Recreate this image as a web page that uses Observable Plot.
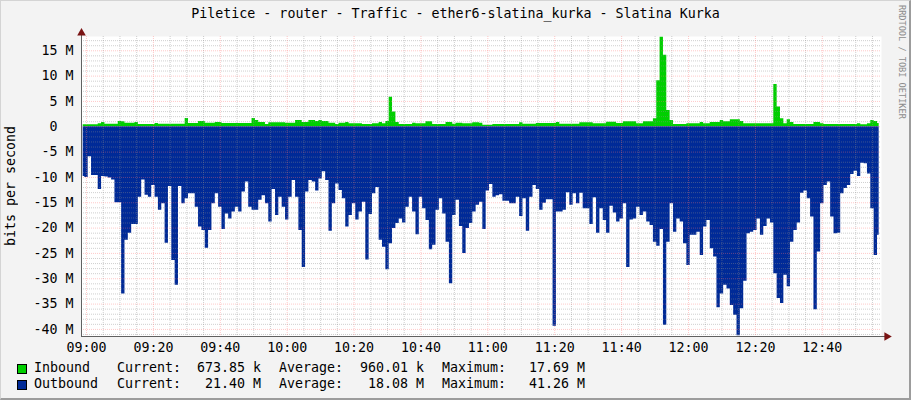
<!DOCTYPE html>
<html>
<head>
<meta charset="utf-8">
<script src="https://cdn.jsdelivr.net/npm/d3@7"></script>
<script src="https://cdn.jsdelivr.net/npm/@observablehq/plot@0.6"></script>
<style>
html,body{margin:0;padding:0;background:#f3f3f3;}
#wrap{position:relative;width:911px;height:400px;background:#f3f3f3;font-family:"DejaVu Sans Mono",monospace;font-size:13.3px;color:#000;overflow:hidden;}
#frame{position:absolute;left:0;top:0;width:911px;height:400px;box-sizing:border-box;border-top:1px solid #d4d4d4;border-left:1px solid #d4d4d4;border-right:2px solid #9c9c9c;border-bottom:2px solid #9c9c9c;pointer-events:none;}
#title{position:absolute;left:0;top:6px;width:911px;text-align:center;line-height:16px;white-space:pre;}
#chart{position:absolute;left:0;top:0;}
#rrd{position:absolute;left:897px;top:5px;writing-mode:vertical-rl;font-size:8.6px;line-height:10px;color:#8c8c8c;white-space:pre;}
#ylab{position:absolute;left:3px;top:126px;height:120px;writing-mode:vertical-rl;transform:rotate(180deg);line-height:16px;text-align:center;white-space:pre;}
.lg{position:absolute;line-height:16px;white-space:pre;}
.sw{position:absolute;width:10px;height:10px;box-sizing:border-box;border:1px solid #000;}
</style>
</head>
<body>
<div id="wrap">
  <div id="title"></div>
  <div id="ylab"></div>
  <div id="chart"></div>
  <div id="rrd"></div>
  <div id="legend"></div>
  <div id="frame"></div>
</div>
<script>
// ---- text ----
const titleText = "Piletice - router - Traffic - ether6-slatina_kurka - Slatina Kurka";
const yTitle = "bits per second";
const watermark = "RRDTOOL / TOBI OETIKER";

// ---- legend ----
const seriesNames = ["Inbound", "Outbound"];
const seriesColors = ["#00CF00", "#002A97"];
const currentVals = ["673.85 k", "21.40 M"];
const averageVals = ["960.01 k", "18.08 M"];
const maximumVals = ["17.69 M", "41.26 M"];

// ---- axis ticks ----
const xTickLabels = ["09:00","09:20","09:40","10:00","10:20","10:40","11:00","11:20","11:40","12:00","12:20","12:40"];
const yTickValues = [15, 10, 5, 0, -5, -10, -15, -20, -25, -30, -35, -40]; // M

// ---- series: one sample per minute, first sample at 08:59 (Mbit/s) ----
const inbound = [
  .4,.4,.4,.4,.4,.6,.85,.5,.5,.5,
  .5,1.05,1.0,.7,.7,.7,.85,.45,.45,.45,
  .45,.45,.65,.5,.5,.5,.5,.5,.5,.5,
  .5,1.65,.65,.65,.65,1.05,1.05,.7,.7,.7,
  .85,.85,.65,.65,.65,.65,.65,.65,.65,.65,
  .65,1.65,1.25,.85,.85,.45,.8,.8,.8,.8,
  .8,.7,.7,.7,1.25,1.25,.85,.85,1.25,1.25,
  1.05,1.25,1.05,1.05,.7,.7,.45,.7,.7,.85,
  .6,.6,.6,.6,.45,.45,.45,.6,.6,.85,
  .6,1.05,5.85,2.9,.85,.45,.45,.45,.45,.7,
  .6,.6,.6,1.0,1.0,.45,.45,.45,.45,.85,
  .85,.5,.7,.7,.6,.6,.6,.8,.8,.7,
  .3,.3,.3,.45,.45,.45,.45,.45,.45,.45,
  .45,.8,.5,.5,.5,.5,.65,.65,.65,.65,
  .65,.65,.85,.5,.5,.5,.5,.5,.5,.8,
  .8,.8,.8,.6,.6,.6,.6,.9,.9,.9,
  .65,.65,1.0,1.0,1.0,1.0,.6,.6,1.0,1.0,
  1.0,1.6,9.1,17.69,14.1,3.2,1.25,.45,.45,.45,
  .45,.6,.6,.6,.6,.85,.6,.6,.85,.85,
  .85,1.25,1.0,1.0,1.4,1.4,1.4,1.05,.6,.6,
  .6,.6,.6,.6,.6,.6,.6,8.35,3.9,1.6,
  .6,1.4,.85,.45,.45,.45,.45,.45,.45,.85,
  .85,.6,.45,.45,.45,.45,.45,.45,.45,.45,
  .45,.45,.6,.4,.4,.6,1.25,1.05,.67
];
const outbound = [
  9.8,10.0,5.9,9.6,9.6,12.4,9.8,9.9,10.1,10.5,
  15.0,15.0,33.0,22.4,21.0,19.3,19.3,13.9,10.5,13.5,
  13.9,11.6,13.9,16.5,15.2,23.0,11.8,26.4,31.3,11.8,
  15.2,14.2,13.2,13.2,15.9,19.8,20.5,24.0,20.5,15.2,
  13.2,15.9,20.3,17.2,18.2,16.8,15.9,16.8,12.9,10.9,
  15.9,16.5,16.5,14.5,13.6,15.2,18.8,12.4,17.5,13.9,
  15.9,18.4,13.9,10.6,13.9,20.5,27.8,12.9,10.6,10.9,
  12.7,10.3,8.9,10.6,20.6,15.2,11.3,12.6,14.2,19.8,
  17.5,15.2,18.4,16.8,14.9,26.3,17.3,13.2,12.0,22.4,
  23.8,28.2,23.1,20.1,19.1,18.2,19.0,15.9,13.9,16.8,
  21.3,13.9,16.2,18.5,24.3,23.4,16.5,14.2,17.2,22.8,
  31.0,17.5,14.5,19.7,25.0,20.1,19.1,16.8,15.5,14.9,
  20.3,12.7,11.4,13.9,13.6,13.4,14.7,14.7,15.2,15.2,
  13.9,17.7,14.2,20.6,13.9,11.6,12.4,16.5,15.1,14.4,
  14.4,39.4,16.8,16.8,16.5,13.0,15.5,13.2,15.2,13.1,
  16.2,16.2,19.3,14.0,21.0,16.2,18.5,21.0,15.7,17.0,
  18.8,18.2,15.2,27.8,18.4,18.2,15.9,17.5,16.8,18.8,
  19.5,22.8,23.6,20.3,39.2,22.8,15.2,20.8,18.2,18.8,
  23.1,27.4,21.4,21.4,20.8,25.4,19.8,18.5,24.1,25.7,
  35.7,33.0,31.3,32.0,35.3,37.2,41.26,35.9,30.5,21.1,
  20.8,20.5,18.2,21.4,19.7,18.2,19.0,29.0,33.9,34.9,
  29.3,31.6,22.8,20.5,19.0,13.1,12.7,14.2,17.8,36.1,
  24.7,15.2,11.6,10.9,17.8,21.1,21.0,13.2,12.2,11.6,
  9.4,8.8,9.8,7.2,7.3,9.3,16.2,25.4,21.4
];

// ---- build ----
const MIN = 60000;
const base = Date.UTC(2024, 0, 1, 9, 0);
const firstOffset = -1;
const rows = outbound.map((v, i) => ({
  time: new Date(base + (i + firstOffset) * MIN),
  inb: inbound[i] * 1e6,
  out: -v * 1e6
}));
const parseHM = s => { const [h, m] = s.split(":").map(Number); return new Date(Date.UTC(2024, 0, 1, h, m)); };
const xTicks = xTickLabels.map(parseHM);
const xDomain = [new Date(base - 1.5 * MIN), new Date(base + 237.7 * MIN)];
const yDomain = [-41.4e6, 17.82e6];

const minorX = d3.utcMinute.every(5).range(xDomain[0], xDomain[1]).filter(d => d.getUTCMinutes() % 20 !== 0);
const majorX = xTicks;
const minorY = d3.range(-41, 18).filter(v => v % 5 !== 0).map(v => v * 1e6);
const majorY = yTickValues.map(v => v * 1e6);

const fmtY = v => v === 0 ? "0\u00a0\u00a0" : (v / 1e6) + " M";

const gridMinor = {stroke: "#8c8c8c", strokeOpacity: 0.42, strokeDasharray: "1,1"};
const gridMajor = {stroke: "#ff7070", strokeOpacity: 0.38, strokeDasharray: "1,1"};

const chart = Plot.plot({
  width: 911,
  height: 400,
  marginLeft: 81,
  marginRight: 30,
  marginTop: 36,
  marginBottom: 64,
  style: {fontFamily: "DejaVu Sans Mono, monospace", fontSize: "13.3px", color: "#000", background: "transparent", overflow: "visible"},
  x: {type: "utc", domain: xDomain},
  y: {domain: yDomain},
  marks: [
    Plot.frame({fill: "white", stroke: null}),
    Plot.areaY(rows, {x: "time", y: "inb", fill: "#00CF00", curve: "step"}),
    Plot.areaY(rows, {x: "time", y: "out", fill: "#002A97", curve: "step"}),
    Plot.ruleY(minorY, gridMinor),
    Plot.ruleX(minorX, gridMinor),
    Plot.ruleY(majorY, gridMajor),
    Plot.ruleX(majorX, gridMajor),
    Plot.ruleX([xDomain[0]], {y1: yDomain[0], y2: yDomain[1] + 0.6e6, stroke: "#606060"}),
    Plot.ruleY([yDomain[0]], {x1: xDomain[0], x2: new Date(xDomain[1].getTime() + 1.6 * MIN), stroke: "#606060"}),
    Plot.dot([yDomain[1]], {x: () => xDomain[0], y: d => d, symbol: "triangle", r: 3.2, fill: "#7a1414", stroke: null, dy: -3.5}),
    Plot.dot([yDomain[0]], {x: () => new Date(xDomain[1].getTime() + 1.6 * MIN), y: d => d, symbol: "triangle", r: 3.2, fill: "#7a1414", stroke: null, rotate: 90}),
    Plot.axisY({ticks: majorY, tickFormat: fmtY, tickSize: 0, tickPadding: 8, label: null}),
    Plot.axisX({ticks: xTicks, tickFormat: d3.utcFormat("%H:%M"), tickSize: 0, tickPadding: 6, label: null})
  ]
});
document.getElementById("chart").appendChild(chart);

document.getElementById("title").textContent = titleText;
document.getElementById("ylab").textContent = yTitle;
document.getElementById("rrd").textContent = watermark;

const legend = d3.select("#legend");
seriesNames.forEach((name, i) => {
  const top = 360 + i * 16;
  legend.append("div").attr("class", "sw")
    .style("left", "17px").style("top", (top + 4) + "px").style("background", seriesColors[i]);
  legend.append("div").attr("class", "lg").style("left", "34px").style("top", top + "px").text(name);
  legend.append("div").attr("class", "lg").style("left", "117px").style("top", top + "px").text("Current:");
  legend.append("div").attr("class", "lg").style("right", "650px").style("top", top + "px").text(currentVals[i]);
  legend.append("div").attr("class", "lg").style("left", "279px").style("top", top + "px").text("Average:");
  legend.append("div").attr("class", "lg").style("right", "487px").style("top", top + "px").text(averageVals[i]);
  legend.append("div").attr("class", "lg").style("left", "442px").style("top", top + "px").text("Maximum:");
  legend.append("div").attr("class", "lg").style("right", "326px").style("top", top + "px").text(maximumVals[i]);
});
</script>
</body>
</html>
